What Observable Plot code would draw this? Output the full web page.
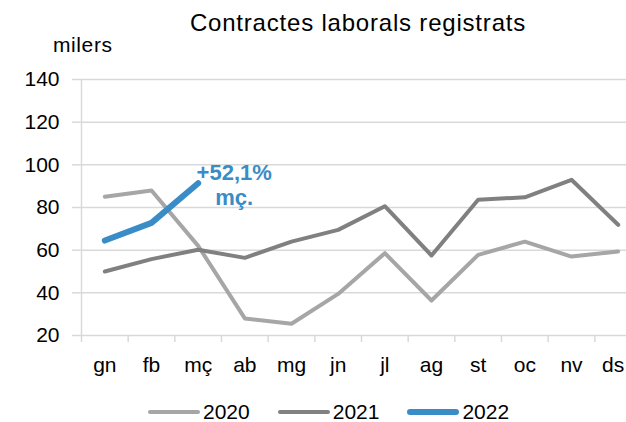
<!DOCTYPE html>
<html>
<head>
<meta charset="utf-8">
<script src="https://cdn.jsdelivr.net/npm/d3@7"></script>
<script src="https://cdn.jsdelivr.net/npm/@observablehq/plot@0.6"></script>
<style>
  html, body { margin: 0; padding: 0; background: #fff; overflow: hidden; }
  #wrap { position: relative; width: 626px; height: 422px; overflow: hidden; font-family: "Liberation Sans", Arial, sans-serif; color: #000; }
  #chart { position: absolute; left: 0; top: 0; }
  #title { position: absolute; left: 0; width: 716px; top: 11px; text-align: center; font-size: 24px; line-height: 24px; letter-spacing: 0.8px; white-space: nowrap; }
  #unit { position: absolute; left: 53px; top: 34px; font-size: 21px; line-height: 21px; letter-spacing: 0.6px; }
  #legend { position: absolute; left: 148px; top: 401px; display: flex; align-items: center; gap: 28px; font-size: 21px; line-height: 21px; }
  .item { display: flex; align-items: center; }
  .sw { width: 52px; border-radius: 3px; margin-right: 3px; }
</style>
</head>
<body>
<div id="wrap">
  <div id="chart"></div>
  <div id="title">Contractes laborals registrats</div>
  <div id="unit">milers</div>
  <div id="legend"></div>
</div>
<script>
const months = ["gn","fb","mç","ab","mg","jn","jl","ag","st","oc","nv","ds"];
const v2020 = [85, 88, 62, 28, 25.5, 39.5, 58.6, 36.4, 57.8, 64, 57, 59.4];
const v2021 = [50, 55.8, 60.2, 56.4, 64, 69.5, 80.6, 57.5, 83.6, 84.8, 93, 71.9];
const v2022 = [64.5, 72.8, 91.4];
const yTicks = [20, 40, 60, 80, 100, 120, 140];
const seriesNames = ["2020", "2021", "2022"];
const seriesColors = ["#a6a6a6", "#808080", "#3a8cc6"];
const seriesWidths = [4, 4, 6];
const noteText = "+52,1%\nmç.";

const series = [v2020, v2021, v2022];
const grid = "#d9d9d9";
const bounds = d3.range(months.length + 1);
const centers = months.map((m, i) => i + 0.5);
const innerCenters = centers.slice(0, -1);
const lastCenter = centers.slice(-1);
const monthLabel = d => months[Math.round(d - 0.5)];

const lineMarks = series.map((vals, k) =>
  Plot.line(vals, {
    x: (d, i) => i + 0.5,
    y: d => d,
    stroke: seriesColors[k],
    strokeWidth: seriesWidths[k],
    strokeLinejoin: "round",
    strokeLinecap: "round"
  })
);

const lastIdx = v2022.length - 1;

const plot = Plot.plot({
  width: 626,
  height: 422,
  marginTop: 79,
  marginBottom: 87,
  marginLeft: 81,
  marginRight: -15,
  style: { fontFamily: "'Liberation Sans', Arial, sans-serif", fontSize: "21px", background: "transparent", overflow: "visible" },
  x: { type: "linear", domain: [0, months.length] },
  y: { domain: [20, 140] },
  marks: [
    Plot.gridY(yTicks, { stroke: grid, strokeOpacity: 1, strokeWidth: 1.5 }),
    Plot.axisY(yTicks, { tickSize: 9, tickPadding: 13, stroke: grid, strokeWidth: 1.5, fill: "#000", label: null }),
    Plot.ruleX([0], { stroke: grid, strokeWidth: 1.5 }),
    Plot.axisX(bounds, { tickSize: 7, tickFormat: () => "", stroke: grid, strokeWidth: 1.5, label: null }),
    Plot.axisX(innerCenters, { tickSize: 0, tickPadding: 22, tickFormat: monthLabel, fill: "#000", label: null }),
    Plot.axisX(lastCenter, { tickSize: 0, tickPadding: 22, tickFormat: monthLabel, fill: "#000", label: null, textAnchor: "end", dx: 6 }),
    ...lineMarks,
    Plot.text([v2022[lastIdx]], {
      x: () => lastIdx + 0.5,
      y: d => d,
      text: () => noteText,
      dx: 36,
      dy: 1,
      fill: seriesColors[2],
      fontWeight: "bold",
      fontSize: 22,
      lineHeight: 1.18,
      lineAnchor: "middle",
      textAnchor: "middle"
    })
  ]
});
document.getElementById("chart").appendChild(plot);

const legend = document.getElementById("legend");
seriesNames.forEach((name, k) => {
  const item = document.createElement("div");
  item.className = "item";
  const sw = document.createElement("span");
  sw.className = "sw";
  sw.style.height = seriesWidths[k] + "px";
  sw.style.background = seriesColors[k];
  const t = document.createElement("span");
  t.textContent = name;
  item.appendChild(sw);
  item.appendChild(t);
  legend.appendChild(item);
});
</script>
</body>
</html>
